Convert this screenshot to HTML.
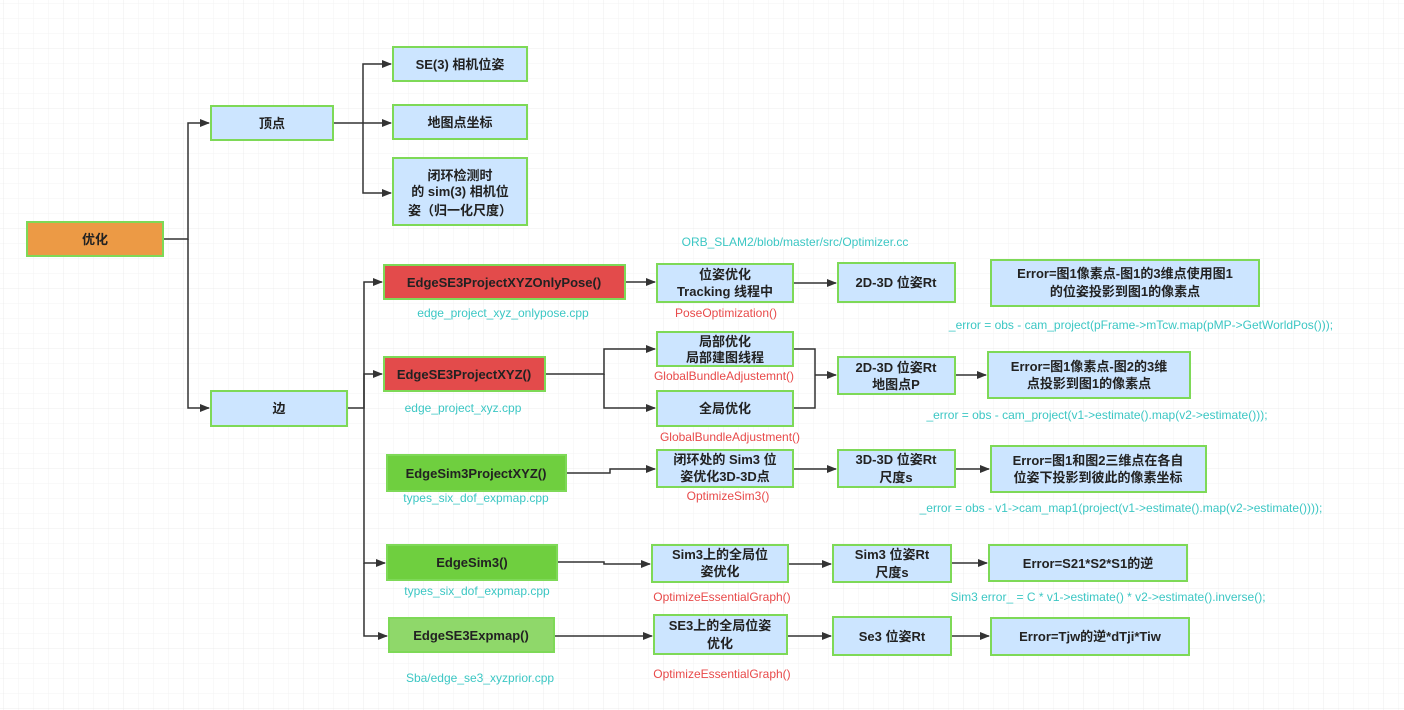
<!DOCTYPE html>
<html><head><meta charset="utf-8"><style>
html,body{margin:0;padding:0;background:#fff}
svg{display:block}
text{font-family:"Liberation Sans","Noto Sans CJK SC",sans-serif}
.n{font-size:13px;font-weight:bold;fill:#222;text-anchor:middle}
.c{font-size:12px;fill:#3cc7c4;text-anchor:middle}
.r{font-size:12px;fill:#e84a4a;text-anchor:middle}
.l{stroke:#333;stroke-width:1.5;fill:none}
</style></head><body>
<svg width="1404" height="710" viewBox="0 0 1404 710" xmlns="http://www.w3.org/2000/svg">
<defs>
<pattern id="g" x="3" y="3" width="15" height="15" patternUnits="userSpaceOnUse"><path d="M15 0H0V15" fill="none" stroke="#f3f3f3" stroke-width="1"/></pattern>
<pattern id="G" x="3" y="-12" width="60" height="60" patternUnits="userSpaceOnUse"><path d="M60 0H0V60" fill="none" stroke="#ececec" stroke-width="1"/></pattern>
<marker id="a" markerWidth="10" markerHeight="8" refX="9" refY="4" orient="auto" markerUnits="userSpaceOnUse"><path d="M0,0L10,4L0,8z" fill="#333"/></marker>
</defs>
<rect width="1404" height="710" fill="url(#g)"/>
<rect width="1404" height="710" fill="url(#G)"/>
<g class="l">
<path d="M163 239H188V123H209" marker-end="url(#a)"/>
<path d="M188 239V408H209" marker-end="url(#a)"/>
<path d="M333 123H391" marker-end="url(#a)"/>
<path d="M363 123V64H391" marker-end="url(#a)"/>
<path d="M363 123V193H391" marker-end="url(#a)"/>
<path d="M347 408H364V282H382" marker-end="url(#a)"/>
<path d="M364 408V374H382" marker-end="url(#a)"/>
<path d="M364 408V563H385" marker-end="url(#a)"/>
<path d="M364 563V636H387" marker-end="url(#a)"/>
<path d="M625 282H655" marker-end="url(#a)"/>
<path d="M793 283H836" marker-end="url(#a)"/>
<path d="M545 374H604V349H655" marker-end="url(#a)"/>
<path d="M604 374V408H655" marker-end="url(#a)"/>
<path d="M793 349H815V408H793"/>
<path d="M815 375H836" marker-end="url(#a)"/>
<path d="M955 375H986" marker-end="url(#a)"/>
<path d="M566 473H610V469H655" marker-end="url(#a)"/>
<path d="M793 469H836" marker-end="url(#a)"/>
<path d="M955 469H989" marker-end="url(#a)"/>
<path d="M557 562H604V564H650" marker-end="url(#a)"/>
<path d="M788 564H831" marker-end="url(#a)"/>
<path d="M951 563H987" marker-end="url(#a)"/>
<path d="M554 636H652" marker-end="url(#a)"/>
<path d="M787 636H831" marker-end="url(#a)"/>
<path d="M951 636H989" marker-end="url(#a)"/>
</g>
<g stroke="#7ed957" stroke-width="2">
<rect x="27" y="222" width="136" height="34" fill="#ec9a45"/>
<rect x="211" y="106" width="122" height="34" fill="#cce5ff"/>
<rect x="211" y="391" width="136" height="35" fill="#cce5ff"/>
<rect x="393" y="47" width="134" height="34" fill="#cce5ff"/>
<rect x="393" y="105" width="134" height="34" fill="#cce5ff"/>
<rect x="393" y="158" width="134" height="67" fill="#cce5ff"/>
<rect x="384" y="265" width="241" height="34" fill="#e34b4b"/>
<rect x="384" y="357" width="161" height="34" fill="#e34b4b"/>
<rect x="387" y="455" width="179" height="36" fill="#6fcf3f"/>
<rect x="387" y="545" width="170" height="35" fill="#6fcf3f"/>
<rect x="389" y="618" width="165" height="34" fill="#8fd86a"/>
<rect x="657" y="264" width="136" height="38" fill="#cce5ff"/>
<rect x="838" y="263" width="117" height="39" fill="#cce5ff"/>
<rect x="991" y="260" width="268" height="46" fill="#cce5ff"/>
<rect x="657" y="332" width="136" height="34" fill="#cce5ff"/>
<rect x="657" y="391" width="136" height="35" fill="#cce5ff"/>
<rect x="838" y="357" width="117" height="37" fill="#cce5ff"/>
<rect x="988" y="352" width="202" height="46" fill="#cce5ff"/>
<rect x="657" y="450" width="136" height="37" fill="#cce5ff"/>
<rect x="838" y="450" width="117" height="37" fill="#cce5ff"/>
<rect x="991" y="446" width="215" height="46" fill="#cce5ff"/>
<rect x="652" y="545" width="136" height="37" fill="#cce5ff"/>
<rect x="833" y="545" width="118" height="37" fill="#cce5ff"/>
<rect x="989" y="545" width="198" height="36" fill="#cce5ff"/>
<rect x="654" y="615" width="133" height="39" fill="#cce5ff"/>
<rect x="833" y="617" width="118" height="38" fill="#cce5ff"/>
<rect x="991" y="618" width="198" height="37" fill="#cce5ff"/>
</g>
<g class="n">
<text x="95" y="244">优化</text>
<text x="272" y="128">顶点</text>
<text x="279" y="413">边</text>
<text x="460" y="69">SE(3) 相机位姿</text>
<text x="460" y="127">地图点坐标</text>
<text x="460" y="180">闭环检测时</text>
<text x="460" y="196">的 sim(3) 相机位</text>
<text x="460" y="215">姿（归一化尺度）</text>
<text x="504" y="287">EdgeSE3ProjectXYZOnlyPose()</text>
<text x="464" y="379">EdgeSE3ProjectXYZ()</text>
<text x="476" y="478">EdgeSim3ProjectXYZ()</text>
<text x="472" y="567">EdgeSim3()</text>
<text x="471" y="640">EdgeSE3Expmap()</text>
<text x="725" y="279">位姿优化</text>
<text x="725" y="296">Tracking 线程中</text>
<text x="896" y="287">2D-3D 位姿Rt</text>
<text x="1125" y="278">Error=图1像素点-图1的3维点使用图1</text>
<text x="1125" y="296">的位姿投影到图1的像素点</text>
<text x="725" y="346">局部优化</text>
<text x="725" y="362">局部建图线程</text>
<text x="725" y="413">全局优化</text>
<text x="896" y="372">2D-3D 位姿Rt</text>
<text x="896" y="389">地图点P</text>
<text x="1089" y="371">Error=图1像素点-图2的3维</text>
<text x="1089" y="388">点投影到图1的像素点</text>
<text x="725" y="464">闭环处的 Sim3 位</text>
<text x="725" y="481">姿优化3D-3D点</text>
<text x="896" y="464">3D-3D 位姿Rt</text>
<text x="896" y="482">尺度s</text>
<text x="1098" y="465">Error=图1和图2三维点在各自</text>
<text x="1098" y="482">位姿下投影到彼此的像素坐标</text>
<text x="720" y="559">Sim3上的全局位</text>
<text x="720" y="576">姿优化</text>
<text x="892" y="559">Sim3 位姿Rt</text>
<text x="892" y="577">尺度s</text>
<text x="1088" y="568">Error=S21*S2*S1的逆</text>
<text x="720" y="630">SE3上的全局位姿</text>
<text x="720" y="648">优化</text>
<text x="892" y="641">Se3 位姿Rt</text>
<text x="1090" y="641">Error=Tjw的逆*dTji*Tiw</text>
</g>
<g class="c">
<text x="795" y="246">ORB_SLAM2/blob/master/src/Optimizer.cc</text>
<text x="503" y="317">edge_project_xyz_onlypose.cpp</text>
<text x="463" y="412">edge_project_xyz.cpp</text>
<text x="476" y="502">types_six_dof_expmap.cpp</text>
<text x="477" y="595">types_six_dof_expmap.cpp</text>
<text x="480" y="682">Sba/edge_se3_xyzprior.cpp</text>
<text x="1141" y="329">_error = obs - cam_project(pFrame-&gt;mTcw.map(pMP-&gt;GetWorldPos()));</text>
<text x="1097" y="419">_error = obs - cam_project(v1-&gt;estimate().map(v2-&gt;estimate()));</text>
<text x="1121" y="512">_error = obs - v1-&gt;cam_map1(project(v1-&gt;estimate().map(v2-&gt;estimate())));</text>
<text x="1108" y="601">Sim3 error_ = C * v1-&gt;estimate() * v2-&gt;estimate().inverse();</text>
</g>
<g class="r">
<text x="726" y="317">PoseOptimization()</text>
<text x="724" y="380">GlobalBundleAdjustemnt()</text>
<text x="730" y="441">GlobalBundleAdjustment()</text>
<text x="728" y="500">OptimizeSim3()</text>
<text x="722" y="601">OptimizeEssentialGraph()</text>
<text x="722" y="678">OptimizeEssentialGraph()</text>
</g>
</svg>
</body></html>
